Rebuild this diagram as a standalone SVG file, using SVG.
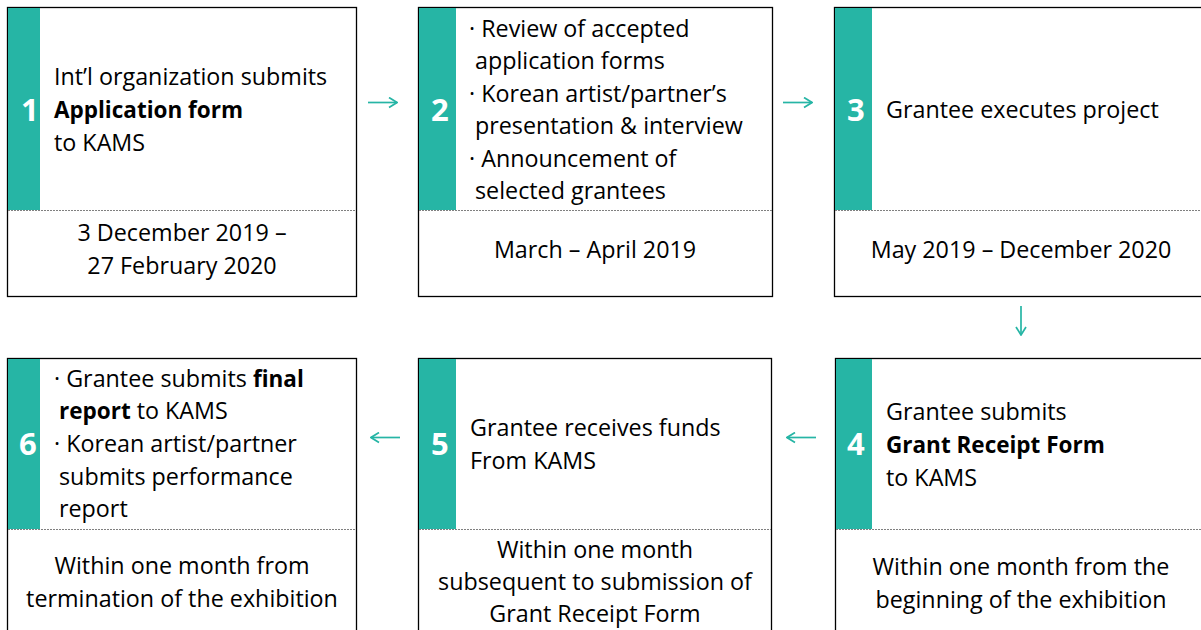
<svg xmlns="http://www.w3.org/2000/svg" width="1201" height="630" viewBox="0 0 1201 630">
<style>
.box{fill:#fff;stroke:#000;stroke-width:1.3}
.bar{fill:#26B5A5}
.sep{stroke:#808080;stroke-width:1;stroke-dasharray:2 1}
.t{font-family:"Open Sans",Lato,sans-serif;font-size:23.3px;fill:#000}
.c{text-anchor:middle}
.b{font-weight:bold;font-size:22.5px}
.n{font-family:"Open Sans",Lato,sans-serif;font-size:31px;font-weight:bold;fill:#fff}
.arr{stroke:#26B5A5;stroke-width:1.7;fill:none}
</style>
<defs>
<marker id="ah" markerWidth="10" markerHeight="12" refX="9" refY="6" orient="auto" markerUnits="userSpaceOnUse">
<path d="M1,1 L9,6 L1,11" fill="none" stroke="#26B5A5" stroke-width="1.7"/>
</marker>
</defs>
<rect width="1201" height="630" fill="#fff"/>

<g id="node1">
<rect class="box" x="7.5" y="7.5" width="349" height="289"/>
<rect class="bar" x="8" y="8" width="32" height="202"/>
<line class="sep" x1="8" y1="210.5" x2="356" y2="210.5"/>
<text class="n" x="21" y="121">1</text>
<text class="t" x="54" y="85">Int’l organization submits</text>
<text class="t b" x="54" y="118">Application form</text>
<text class="t" x="54" y="151">to KAMS</text>
<text class="t c" x="182" y="241">3 December 2019 –</text>
<text class="t c" x="182" y="274">27 February 2020</text>
</g>

<g id="node2">
<rect class="box" x="418.5" y="7.5" width="354" height="289"/>
<rect class="bar" x="419" y="8" width="37" height="202"/>
<line class="sep" x1="419" y1="210.5" x2="772" y2="210.5"/>
<text class="n" x="431" y="121">2</text>
<text class="t" x="469" y="37">· Review of accepted</text>
<text class="t" x="475" y="69">application forms</text>
<text class="t" x="469" y="102">· Korean artist/partner’s</text>
<text class="t" x="475" y="134">presentation &amp; interview</text>
<text class="t" x="469" y="167">· Announcement of</text>
<text class="t" x="475" y="199">selected grantees</text>
<text class="t c" x="595" y="258">March – April 2019</text>
</g>

<g id="node3">
<rect class="box" x="834.5" y="7.5" width="374" height="289"/>
<rect class="bar" x="835" y="8" width="37" height="202"/>
<line class="sep" x1="835" y1="210.5" x2="1208" y2="210.5"/>
<text class="n" x="847" y="121">3</text>
<text class="t" x="886" y="118">Grantee executes project</text>
<text class="t c" x="1021" y="258">May 2019 – December 2020</text>
</g>

<g id="node4">
<rect class="box" x="835.5" y="358.5" width="374" height="290"/>
<rect class="bar" x="836" y="359" width="36" height="170"/>
<line class="sep" x1="836" y1="529.5" x2="1209" y2="529.5"/>
<text class="n" x="847" y="455">4</text>
<text class="t" x="886" y="420">Grantee submits</text>
<text class="t b" x="886" y="453">Grant Receipt Form</text>
<text class="t" x="886" y="486">to KAMS</text>
<text class="t c" x="1021" y="575">Within one month from the</text>
<text class="t c" x="1021" y="608">beginning of the exhibition</text>
</g>

<g id="node5">
<rect class="box" x="418.5" y="358.5" width="353" height="290"/>
<rect class="bar" x="419" y="359" width="37" height="170"/>
<line class="sep" x1="419" y1="529.5" x2="771" y2="529.5"/>
<text class="n" x="431" y="455">5</text>
<text class="t" x="470" y="436">Grantee receives funds</text>
<text class="t" x="470" y="469">From KAMS</text>
<text class="t c" x="595" y="558">Within one month</text>
<text class="t c" x="595" y="590">subsequent to submission of</text>
<text class="t c" x="595" y="622">Grant Receipt Form</text>
</g>

<g id="node6">
<rect class="box" x="7.5" y="358.5" width="349" height="290"/>
<rect class="bar" x="8" y="359" width="32" height="170"/>
<line class="sep" x1="8" y1="529.5" x2="356" y2="529.5"/>
<text class="n" x="19" y="455">6</text>
<text class="t" x="54" y="387">· Grantee submits <tspan class="b">final</tspan></text>
<text class="t" x="59" y="419"><tspan class="b">report</tspan> to KAMS</text>
<text class="t" x="54" y="452">· Korean artist/partner</text>
<text class="t" x="59" y="485">submits performance</text>
<text class="t" x="59" y="517">report</text>
<text class="t c" x="182" y="574">Within one month from</text>
<text class="t c" x="182" y="607">termination of the exhibition</text>
</g>

<g id="connectors">
<line class="arr" x1="368" y1="102.5" x2="397" y2="102.5" marker-end="url(#ah)"/>
<line class="arr" x1="783" y1="102.5" x2="812" y2="102.5" marker-end="url(#ah)"/>
<line class="arr" x1="1021" y1="306" x2="1021" y2="335" marker-end="url(#ah)"/>
<line class="arr" x1="816" y1="437.5" x2="787" y2="437.5" marker-end="url(#ah)"/>
<line class="arr" x1="400" y1="437.5" x2="371" y2="437.5" marker-end="url(#ah)"/>
</g>
</svg>
